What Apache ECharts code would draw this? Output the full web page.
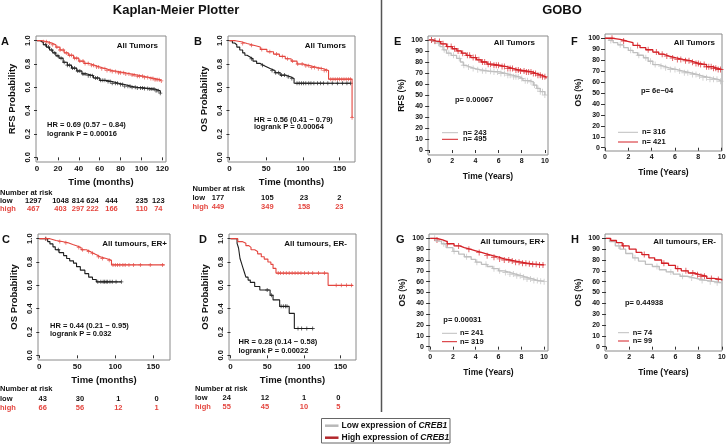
<!DOCTYPE html>
<html>
<head>
<meta charset="utf-8">
<script src="https://cdn.jsdelivr.net/npm/echarts@6/dist/echarts.min.js"></script>
<style>
  html, body { margin: 0; padding: 0; background: #fff; }
  #chart { width: 726px; height: 444px; }
</style>
</head>
<body>
<div id="chart"></div>
<script>
// ---- data: Kaplan-Meier Plotter (months, probability) ----
// A: RFS, all tumors
const aLowT = [0, 3, 6, 9, 12, 15, 18, 21, 25, 29, 33, 38, 43, 48, 54, 60, 66, 72, 78, 84, 90, 96, 102, 108, 113, 118]
const aLowS = [1, 0.985, 0.965, 0.945, 0.92, 0.895, 0.87, 0.85, 0.815, 0.79, 0.765, 0.74, 0.715, 0.7, 0.68, 0.66, 0.65, 0.635, 0.625, 0.61, 0.6, 0.595, 0.59, 0.585, 0.57, 0.55]
const aLowCens = [8, 11, 14, 17, 20, 23, 26, 29, 31, 34, 36, 39, 41, 44, 46, 49, 51, 53, 56, 58, 61, 63, 65, 68, 70, 72, 75, 77, 80, 82, 84, 87, 89, 91, 94, 96, 99, 101, 103, 106, 108, 110, 112, 114, 116, 118]
const aHighT = [0, 5, 10, 14, 18, 22, 26, 30, 35, 40, 45, 50, 55, 60, 66, 72, 78, 84, 90, 96, 102, 108, 113, 118]
const aHighS = [1, 0.99, 0.98, 0.965, 0.945, 0.92, 0.895, 0.875, 0.85, 0.825, 0.805, 0.79, 0.775, 0.76, 0.745, 0.735, 0.725, 0.715, 0.705, 0.695, 0.685, 0.675, 0.665, 0.655]
const aHighCens = [6, 9, 12, 15, 19, 22, 25, 28, 31, 33, 36, 38, 41, 44, 46, 49, 52, 54, 57, 59, 62, 65, 67, 70, 72, 75, 78, 80, 83, 85, 88, 91, 93, 96, 98, 101, 103, 106, 109, 111, 113, 115, 117, 119]

// B: OS, all tumors
const bLowT = [0, 4, 7, 10, 14, 18, 21, 24, 28, 32, 37, 42, 46, 51, 56, 62, 69, 76, 83, 88, 165]
const bLowS = [1, 0.98, 0.965, 0.945, 0.92, 0.895, 0.875, 0.86, 0.845, 0.825, 0.805, 0.79, 0.775, 0.76, 0.745, 0.725, 0.705, 0.69, 0.675, 0.635, 0.635]
const bLowCens = [30, 45, 58, 63, 67, 71, 75, 80, 85, 92, 95, 98, 101, 104, 108, 111, 115, 120, 124, 128, 134, 140, 147, 154, 160, 165]
const bHighT = [0, 8, 16, 24, 33, 42, 51, 60, 68, 76, 84, 92, 100, 110, 120, 128, 135, 167]
const bHighS = [1, 0.99, 0.975, 0.96, 0.945, 0.925, 0.905, 0.885, 0.865, 0.845, 0.825, 0.8, 0.785, 0.77, 0.76, 0.745, 0.67, 0.34]
const bHighCens = [18, 30, 44, 55, 64, 72, 79, 86, 93, 99, 104, 108, 112, 116, 121, 125, 129, 132, 138, 141, 144, 147, 150, 153, 156, 159, 162, 165, 167]

// C: OS, ER+
const cLowT = [0, 11, 14, 18, 21, 26, 32, 36, 40, 45, 49, 54, 60, 65, 70, 75, 108]
const cLowS = [1, 0.975, 0.955, 0.93, 0.905, 0.88, 0.855, 0.83, 0.81, 0.79, 0.76, 0.73, 0.7, 0.67, 0.65, 0.63, 0.63]
const cLowCens = [8, 25, 77, 81, 84, 86, 88, 90, 93, 96, 101, 108]
const cHighT = [0, 14, 22, 30, 38, 44, 49, 55, 62, 67, 71, 76, 80, 88, 95, 165]
const cHighS = [1, 0.985, 0.975, 0.965, 0.95, 0.94, 0.925, 0.905, 0.89, 0.875, 0.86, 0.845, 0.83, 0.815, 0.775, 0.775]
const cHighCens = [9, 27, 35, 52, 57, 65, 70, 78, 83, 92, 97, 100, 103, 106, 110, 113, 118, 124, 133, 146, 162]

// D: OS, ER-
const dLowT = [0, 9, 11, 12, 13, 15, 17, 19, 21, 24, 27, 33, 40, 54, 58, 67, 80, 87, 112]
const dLowS = [1, 0.96, 0.92, 0.875, 0.83, 0.79, 0.75, 0.71, 0.67, 0.645, 0.625, 0.59, 0.56, 0.515, 0.475, 0.42, 0.36, 0.23, 0.23]
const dLowCens = [50, 56, 69, 72, 75, 77, 92, 97, 104, 112]
const dHighT = [0, 10, 16, 21, 25, 28, 33, 37, 42, 46, 51, 55, 58, 62, 133, 167]
const dHighS = [1, 0.975, 0.96, 0.94, 0.925, 0.905, 0.89, 0.87, 0.845, 0.825, 0.8, 0.78, 0.745, 0.705, 0.6, 0.6]
const dHighCens = [65, 68, 72, 76, 80, 84, 88, 92, 96, 101, 106, 112, 120, 128, 144, 151, 158, 165]

// ---- data: GOBO (years, percent) ----
const eLowT = [0, 0.3, 0.64, 0.93, 1.2, 1.5, 1.9, 2.37, 2.7, 2.95, 3.2, 3.5, 4.0, 4.4, 5.0, 5.5, 6.1, 6.7, 7.2, 7.8, 8.1, 8.7, 9.0, 9.3, 9.6, 10.0]
const eLowS = [100, 98.5, 97, 94, 91, 88, 86, 83.3, 80, 77, 75.5, 74, 73, 72, 71.5, 71, 69.5, 68, 66.5, 65, 63, 62, 59, 56, 53, 50]
const eLowCens = [0.2, 0.5, 0.8, 1.3, 1.7, 2.1, 2.6, 3.0, 3.4, 3.8, 4.2, 4.6, 4.9, 5.3, 5.6, 5.9, 6.2, 6.5, 6.8, 7.0, 7.3, 7.5, 7.7, 8.0, 8.3, 8.5, 8.8, 9.1, 9.4, 9.6, 9.8, 10.0]
const eHighT = [0, 0.3, 0.6, 1.0, 1.5, 2.0, 2.4, 2.8, 3.2, 3.6, 4.1, 4.5, 5.0, 5.5, 6.1, 6.7, 7.3, 7.8, 8.4, 8.9, 9.3, 9.7, 10.1]
const eHighS = [100, 99, 98.5, 96.5, 94, 92, 90, 88, 86, 84, 82, 80, 78, 77, 75.8, 74, 72.7, 71.8, 71, 69.5, 68, 66.5, 65]
const eHighCens = [0.2, 0.5, 0.9, 1.2, 1.6, 1.9, 2.2, 2.5, 2.9, 3.3, 3.5, 3.8, 4.0, 4.3, 4.6, 4.8, 5.1, 5.3, 5.6, 5.8, 6.0, 6.3, 6.5, 6.8, 7.0, 7.2, 7.5, 7.7, 7.9, 8.2, 8.4, 8.6, 8.8, 9.0, 9.2, 9.4, 9.6, 9.8, 10.0]

const fLowT = [0, 0.35, 0.7, 1.1, 1.6, 2.0, 2.4, 2.8, 3.3, 3.7, 4.1, 4.6, 5.0, 5.5, 6.1, 6.7, 7.3, 7.9, 8.4, 9.0, 9.7, 10.0]
const fLowS = [100, 98, 96, 94, 91.4, 89, 86.8, 84.5, 82.2, 79, 76, 74.5, 73, 71.5, 70, 68.5, 67, 65.5, 64, 62.5, 60.7, 60]
const fLowCens = [0.5, 1.3, 2.2, 2.9, 3.5, 3.9, 4.3, 4.8, 5.2, 5.6, 6.0, 6.4, 6.8, 7.1, 7.5, 7.8, 8.1, 8.4, 8.7, 9.0, 9.3, 9.6, 9.9]
const fHighT = [0, 0.7, 1.3, 1.86, 2.4, 3.0, 3.5, 4.1, 4.6, 5.0, 5.5, 6.1, 6.7, 7.3, 7.7, 8.1, 8.7, 9.2, 9.7, 10.0]
const fHighS = [100, 99, 97.5, 96, 93.5, 91.4, 89.5, 87.4, 85.5, 83.7, 82, 80.7, 79.5, 78.2, 77, 76, 74, 72.5, 71.5, 71]
const fHighCens = [0.6, 1.6, 2.8, 3.7, 4.4, 4.9, 5.3, 5.8, 6.2, 6.5, 6.9, 7.2, 7.5, 7.8, 8.0, 8.2, 8.5, 8.7, 8.9, 9.1, 9.3, 9.5, 9.7, 9.9]

const gLowT = [0, 0.5, 1.0, 1.4, 2.0, 2.5, 3.0, 3.6, 4.0, 4.5, 5.0, 5.5, 6.0, 6.5, 7.0, 7.5, 8.0, 8.5, 9.0, 9.5, 10.0]
const gLowS = [100, 97.5, 95, 91.5, 88, 85.5, 83, 80.5, 78, 76, 74, 72, 70, 68.5, 67, 65.5, 64, 62.5, 61, 60.5, 60]
const gLowCens = [0.4, 1.2, 2.1, 3.2, 4.1, 4.9, 5.6, 6.1, 6.6, 7.0, 7.3, 7.6, 7.9, 8.2, 8.5, 8.8, 9.1, 9.4, 9.7, 10.0]
const gHighT = [0, 0.6, 1.1, 1.5, 2.1, 2.6, 3.0, 3.5, 4.0, 4.5, 5.0, 5.5, 6.1, 6.5, 7.0, 7.5, 8.0, 8.5, 9.0, 9.5, 10.0]
const gHighS = [100, 98.5, 97, 95, 93, 91.5, 90, 88.5, 87, 85.5, 84, 82.5, 81, 80, 79, 78, 77, 76.5, 76, 75.5, 75]
const gHighCens = [0.6, 1.5, 2.5, 3.4, 4.3, 5.0, 5.6, 6.1, 6.5, 6.9, 7.2, 7.5, 7.8, 8.1, 8.4, 8.7, 9.0, 9.3, 9.6, 9.9]

const hLowT = [0, 0.3, 0.8, 1.2, 1.7, 2.3, 2.8, 3.4, 4.0, 4.6, 5.2, 5.8, 6.4, 7.0, 7.6, 8.2, 8.8, 9.4, 10.0]
const hLowS = [100, 97, 93, 90, 86, 82, 79, 76, 74, 71, 69, 67, 65, 63.5, 62, 61, 60, 59, 58]
const hLowCens = [1.1, 2.5, 4.4, 5.6, 6.6, 7.4, 8.3, 9.0, 9.6]
const hHighT = [0, 0.4, 0.9, 1.4, 2.0, 2.6, 3.1, 3.7, 4.2, 4.8, 5.4, 6.0, 6.5, 7.1, 7.6, 8.1, 8.7, 9.3, 10.0]
const hHighS = [100, 98, 96, 93, 90, 87, 85, 82, 80, 77, 75, 72, 70, 68, 66.5, 65, 63, 62, 61]
const hHighCens = [1.5, 3.3, 5.0, 6.2, 6.9, 7.5, 7.9, 8.2, 8.5, 9.1, 9.7]

// ---- tick labels ----
const kmYTicks = [0, 0.2, 0.4, 0.6, 0.8, 1.0]
const kmXTicksA = [0, 20, 40, 60, 80, 100, 120]
const kmXTicks = [0, 50, 100, 150]
const goboYTicks = [0, 10, 20, 30, 40, 50, 60, 70, 80, 90, 100]
const goboXTicks = [0, 2, 4, 6, 8, 10]

// ---- texts ----
const kmTags = ['All Tumors', 'All Tumors', 'All tumours, ER+', 'All tumours, ER-']
const kmHR = ['HR = 0.69 (0.57 \u2212 0.84)', 'HR = 0.56 (0.41 \u2212 0.79)', 'HR = 0.44 (0.21 \u2212 0.95)', 'HR = 0.28 (0.14 \u2212 0.58)']
const kmP = ['logrank P = 0.00016', 'logrank P = 0.00064', 'logrank P = 0.032', 'logrank P = 0.00022']
const goboTags = ['All Tumors', 'All Tumors', 'All tumours, ER+', 'All tumours, ER-']
const goboP = ['p= 0.00067', 'p= 6e\u221204', 'p= 0.00031', 'p= 0.44938']
const goboNLow = ['n= 243', 'n= 316', 'n= 241', 'n= 74']
const goboNHigh = ['n= 495', 'n= 421', 'n= 319', 'n= 99']
const riskLow = [
  ['1297', '1048', '814', '624', '444', '235', '123'],
  ['177', '105', '23', '2'],
  ['43', '30', '1', '0'],
  ['24', '12', '1', '0']
]
const riskHigh = [
  ['467', '403', '297', '222', '166', '110', '74'],
  ['449', '349', '158', '23'],
  ['66', '56', '12', '1'],
  ['55', '45', '10', '5']
]

// ---- style ----
const FONT = '"Liberation Sans", Arial, sans-serif'
const KM_RED = '#e4463f'
const KM_BLACK = '#1e1e1e'
const GOBO_RED = '#d42026'
const GOBO_GRAY = '#bfbfbf'
const BOX = '#8a8a8a'
const PLUS = 'path://M4,0H6V4H10V6H6V10H4V6H0V4H4Z'
const THIN_PLUS = 'path://M4.3,0H5.7V4.3H10V5.7H5.7V10H4.3V5.7H0V4.3H4.3Z'

// 面板布局 [left, top, width, height]
const panels = [
  { box: [36, 36, 130, 126], km: true, x: [-1, 123.5], xTicks: kmXTicksA, yName: 'RFS Probability' },
  { box: [228, 36, 127, 126], km: true, x: [-2, 171], xTicks: kmXTicks, yName: 'OS Probability' },
  { box: [38, 234, 132, 126], km: true, x: [-1.7, 172], xTicks: kmXTicks, yName: 'OS Probability' },
  { box: [229, 234, 127, 126], km: true, x: [-2, 171], xTicks: kmXTicks, yName: 'OS Probability' },
  { box: [428, 36, 120, 119], km: false, x: [-0.1, 10.27], y: [-4.5, 103.6], yName: 'RFS (%)' },
  { box: [605, 34, 117, 117], km: false, x: [0, 10.03], y: [-3, 103.9], yName: 'OS (%)' },
  { box: [429, 234, 119, 117], km: false, x: [-0.1, 10.34], y: [-4, 104], yName: 'OS (%)' },
  { box: [605, 234, 117, 117], km: false, x: [-0.09, 10.02], y: [-4, 104], yName: 'OS (%)' }
]

const curves = [
  { g: 0, T: aLowT, S: aLowS, C: aLowCens, color: KM_BLACK },
  { g: 0, T: aHighT, S: aHighS, C: aHighCens, color: KM_RED },
  { g: 1, T: bLowT, S: bLowS, C: bLowCens, color: KM_BLACK },
  { g: 1, T: bHighT, S: bHighS, C: bHighCens, color: KM_RED },
  { g: 2, T: cLowT, S: cLowS, C: cLowCens, color: KM_BLACK },
  { g: 2, T: cHighT, S: cHighS, C: cHighCens, color: KM_RED },
  { g: 3, T: dLowT, S: dLowS, C: dLowCens, color: KM_BLACK },
  { g: 3, T: dHighT, S: dHighS, C: dHighCens, color: KM_RED },
  { g: 4, T: eLowT, S: eLowS, C: eLowCens, color: GOBO_GRAY },
  { g: 4, T: eHighT, S: eHighS, C: eHighCens, color: GOBO_RED },
  { g: 5, T: fLowT, S: fLowS, C: fLowCens, color: GOBO_GRAY },
  { g: 5, T: fHighT, S: fHighS, C: fHighCens, color: GOBO_RED },
  { g: 6, T: gLowT, S: gLowS, C: gLowCens, color: GOBO_GRAY },
  { g: 6, T: gHighT, S: gHighS, C: gHighCens, color: GOBO_RED },
  { g: 7, T: hLowT, S: hLowS, C: hLowCens, color: GOBO_GRAY },
  { g: 7, T: hHighT, S: hHighS, C: hHighCens, color: GOBO_RED }
]

// value of the step curve at time t (censor marks sit on the curve)
const survAt = (T, S, t) => {
  let v = S[0]
  for (let i = 0; i < T.length; i++) if (T[i] <= t) v = S[i]
  return v
}

const nameStyle = (size) => ({ fontFamily: FONT, fontWeight: 'bold', fontSize: size, color: '#111' })

const grids = panels.map((p) => ({
  left: p.box[0], top: p.box[1], width: p.box[2], height: p.box[3],
  show: true, borderColor: BOX, borderWidth: 1, backgroundColor: 'transparent',
  outerBoundsMode: 'none', containLabel: false
}))

const xAxes = panels.map((p, i) => {
  const ticks = p.km ? p.xTicks : goboXTicks
  return {
    type: 'value', gridIndex: i, min: p.x[0], max: p.x[1],
    name: p.km ? 'Time (months)' : 'Time (Years)',
    nameLocation: 'middle', nameGap: p.km ? 15 : 17,
    nameTextStyle: nameStyle(p.km ? 9.5 : 8.5),
    axisLine: { show: false }, splitLine: { show: false },
    axisTick: { show: true, inside: false, length: 3, customValues: ticks, lineStyle: { color: '#333' } },
    axisLabel: {
      customValues: ticks, margin: 3, fontFamily: FONT, fontWeight: 'bold',
      fontSize: p.km ? 8 : 7, color: '#111'
    }
  }
})

const yAxes = panels.map((p, i) => {
  if (p.km) {
    return {
      type: 'value', gridIndex: i, min: -0.04, max: 1.04,
      name: p.yName, nameLocation: 'middle', nameRotate: 90, nameGap: 19,
      nameTextStyle: nameStyle(9.5),
      axisLine: { show: false }, splitLine: { show: false },
      axisTick: { show: true, length: 3, customValues: kmYTicks, lineStyle: { color: '#333' } },
      axisLabel: {
        customValues: kmYTicks, rotate: 90, margin: 4, fontFamily: FONT, fontWeight: 'bold',
        fontSize: 7.5, color: '#111', formatter: (v) => v.toFixed(1)
      }
    }
  }
  return {
    type: 'value', gridIndex: i, min: p.y[0], max: p.y[1],
    name: p.yName, nameLocation: 'middle', nameRotate: 90, nameGap: 22,
    nameTextStyle: nameStyle(8.5),
    axisLine: { show: false }, splitLine: { show: false },
    axisTick: { show: true, length: 4, customValues: goboYTicks, lineStyle: { color: '#333' } },
    axisLabel: {
      customValues: goboYTicks, margin: 5, fontFamily: FONT, fontWeight: 'bold',
      fontSize: 7, color: '#111'
    }
  }
})

const series = []
curves.forEach((c) => {
  const km = panels[c.g].km
  series.push({
    type: 'line', xAxisIndex: c.g, yAxisIndex: c.g, step: 'end', showSymbol: false,
    silent: true, animation: false,
    data: c.T.map((t, i) => [t, c.S[i]]),
    lineStyle: { color: c.color, width: km ? 1.1 : 1.3 }
  })
  series.push({
    type: 'scatter', xAxisIndex: c.g, yAxisIndex: c.g, silent: true, animation: false,
    symbol: km ? PLUS : THIN_PLUS, symbolSize: km ? 4 : 6,
    data: c.C.map((t) => [t, survAt(c.T, c.S, t)]),
    itemStyle: { color: c.color }
  })
})

// ---- graphic texts ----
const gText = (x, y, text, size, opt = {}) => ({
  type: 'text', x, y, silent: true,
  style: {
    text, fill: opt.color || '#111',
    font: `${opt.italic ? 'italic ' : ''}bold ${size}px ${FONT}`,
    textAlign: opt.align || 'left', textVerticalAlign: 'middle'
  }
})
const gLine = (x1, y1, x2, y2, color, w) => ({
  type: 'line', silent: true, shape: { x1, y1, x2, y2 }, style: { stroke: color, lineWidth: w }
})

const graphics = []
graphics.push(gText(176, 10.5, 'Kaplan-Meier Plotter', 13, { align: 'center' }))
graphics.push(gText(562, 10.5, 'GOBO', 13, { align: 'center' }))
graphics.push(gLine(381.5, 0, 381.5, 412, '#555', 1.5))

// panel letters
const letters = ['A', 'B', 'C', 'D', 'E', 'F', 'G', 'H']
const letterPos = [[1, 42], [194, 42], [2, 240], [199, 240], [394, 42], [571, 42], [396, 240], [571, 240]]
letters.forEach((l, i) => graphics.push(gText(letterPos[i][0], letterPos[i][1], l, 11)))

// KM plotter annotations
const kmTagPos = [[158, 46], [346, 46], [167, 243.5], [347, 244]]
const kmHRPos = [[47, 125, 133.5], [254, 119.5, 127], [50, 326, 333.5], [238.5, 341.5, 350.5]]
kmTags.forEach((t, i) => {
  graphics.push(gText(kmTagPos[i][0], kmTagPos[i][1], t, 8, { align: 'right' }))
  graphics.push(gText(kmHRPos[i][0], kmHRPos[i][1], kmHR[i], 7.5))
  graphics.push(gText(kmHRPos[i][0], kmHRPos[i][2], kmP[i], 7.5))
})

// risk tables
const RISK_FONT = 7.5
const riskLayout = [
  { x0: 0, y: [192.5, 200.7, 209], xs: [33.3, 60.5, 78, 92.5, 111.5, 141.7, 158.3] },
  { x0: 192.5, y: [189, 198.3, 206.7], xs: [218, 267.3, 304, 339.3] },
  { x0: 0, y: [389.3, 399, 407.7], xs: [42.7, 80, 118.3, 156.7] },
  { x0: 195, y: [389, 398.3, 407], xs: [226.7, 265, 304, 338.3] }
]
riskLayout.forEach((r, i) => {
  graphics.push(gText(r.x0, r.y[0], 'Number at risk', RISK_FONT))
  graphics.push(gText(r.x0, r.y[1], 'low', RISK_FONT))
  graphics.push(gText(r.x0, r.y[2], 'high', RISK_FONT, { color: KM_RED }))
  riskLow[i].forEach((v, j) => graphics.push(gText(r.xs[j], r.y[1], v, RISK_FONT, { align: 'center' })))
  riskHigh[i].forEach((v, j) => graphics.push(gText(r.xs[j], r.y[2], v, RISK_FONT, { align: 'center', color: KM_RED })))
})

// GOBO annotations
const goboTagPos = [[535, 43], [715, 43], [545, 242], [716, 242]]
const goboPPos = [[455, 100], [641, 90.7], [443.3, 320], [625, 302.7]]
const goboLeg = [
  { x1: 442, x2: 458, tx: 463, y1: 132.7, y2: 139.3 },
  { x1: 618, x2: 638, tx: 642, y1: 132.3, y2: 142 },
  { x1: 442, x2: 457, tx: 460, y1: 333.3, y2: 341.7 },
  { x1: 618, x2: 629, tx: 632.7, y1: 332.7, y2: 341 }
]
goboTags.forEach((t, i) => {
  graphics.push(gText(goboTagPos[i][0], goboTagPos[i][1], t, 8, { align: 'right' }))
  graphics.push(gText(goboPPos[i][0], goboPPos[i][1], goboP[i], 7.5))
  const l = goboLeg[i]
  graphics.push(gLine(l.x1, l.y1, l.x2, l.y1, GOBO_GRAY, 1))
  graphics.push(gLine(l.x1, l.y2, l.x2, l.y2, GOBO_RED, 1))
  graphics.push(gText(l.tx, l.y1, goboNLow[i], 7.5))
  graphics.push(gText(l.tx, l.y2, goboNHigh[i], 7.5))
})

// bottom legend
graphics.push({
  type: 'rect', silent: true, shape: { x: 321.5, y: 418.5, width: 128.5, height: 24.5 },
  style: { fill: 'none', stroke: '#666', lineWidth: 1 }
})
graphics.push(gLine(325, 425.7, 338.5, 425.7, '#b8b8b8', 2.5))
graphics.push(gLine(325, 437.7, 338.5, 437.7, '#b3272c', 2.5))
const legendRows = [['Low expression of ', 425.7], ['High expression of ', 437.7]]
legendRows.forEach(([t, y]) => {
  graphics.push({
    type: 'text', x: 341.5, y, silent: true,
    style: {
      text: `{a|${t}}{b|CREB1}`, textVerticalAlign: 'middle', fill: '#111',
      rich: {
        a: { fontFamily: FONT, fontWeight: 'bold', fontSize: 8.5, fill: '#111' },
        b: { fontFamily: FONT, fontWeight: 'bold', fontStyle: 'italic', fontSize: 8.5, fill: '#111' }
      }
    }
  })
})

const chart = echarts.init(document.getElementById('chart'))
chart.setOption({
  animation: false,
  backgroundColor: '#fff',
  grid: grids,
  xAxis: xAxes,
  yAxis: yAxes,
  series,
  graphic: graphics
})
</script>
</body>
</html>
